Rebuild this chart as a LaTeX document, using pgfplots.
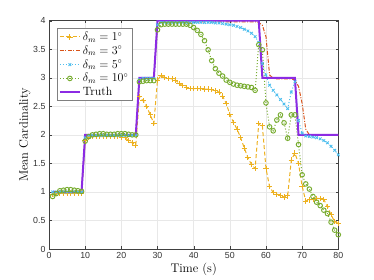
\documentclass[border=0pt]{standalone}
\usepackage{fontspec}
\setsansfont{Liberation Sans}
\usepackage{pgfplots}
\pgfplotsset{compat=1.18}
\definecolor{mOrange}{rgb}{0.929,0.694,0.125}
\definecolor{mRed}{rgb}{0.851,0.325,0.098}
\definecolor{mBlue}{rgb}{0.302,0.745,0.933}
\definecolor{mGreen}{rgb}{0.467,0.675,0.188}
\definecolor{mPurple}{rgb}{0.55,0.17,0.89}
\begin{document}
\begin{tikzpicture}
\path (-49pt,-31pt) rectangle (325pt,249pt);
\begin{axis}[
  at={(0,0)}, anchor=south west,
  scale only axis, width=289.3pt, height=228.3pt,
  xmin=0, xmax=80, ymin=0, ymax=4,
  xtick={0,10,...,80}, ytick={0,0.5,...,4},
  grid=major, grid style={color=gray!18, line width=0.5pt},
  axis line style={color=black!75, line width=0.5pt},
  tick style={color=black!75},
  major tick length=2.5pt,
  tick align=inside,
  /pgf/number format/assume math mode=true,
  ticklabel style={font=\sffamily\fontsize{8.8}{10}\selectfont, color=black!80},
  xlabel={Time (s)}, ylabel={Mean Cardinality},
  label style={font=\fontsize{12.5}{14}\selectfont},
  xlabel style={yshift=3pt},
  ylabel style={yshift=-4pt},
  legend style={at={(0.028,0.967)}, anchor=north west, font=\fontsize{12}{14}\selectfont,
    draw=black!50, line width=0.6pt, fill=white, inner sep=1.5pt, row sep=0pt},
  legend cell align=left,
  legend image code/.code={\draw[#1] (0cm,0cm) -- (0.35cm,0cm) -- (0.7cm,0cm);
    \draw[#1, solid, mark repeat=1] plot coordinates {(0.35cm,0cm)};},
]
\addplot[color=mOrange, line width=1pt, dash pattern=on 4pt off 2.5pt, mark=+, mark size=2.7pt, mark options={solid, line width=0.85pt}] coordinates {
(1,0.96)(2,0.97)(3,0.98)(4,0.97)(5,0.97)(6,0.98)(7,0.97)(8,0.98)(9,0.98)
(10,1.90)(11,1.96)(12,1.97)(13,1.97)(14,1.97)(15,1.97)(16,1.97)(17,1.97)(18,1.97)(19,1.97)(20,1.96)
(21,1.95)(22,1.90)(23,1.86)(24,1.82)
(25,2.67)(26,2.60)(27,2.50)(28,2.35)(29,2.20)
(30,2.96)(31,3.04)(32,3.00)(33,2.99)(34,2.98)(35,2.96)(36,2.90)(37,2.86)(38,2.83)(39,2.81)(40,2.81)
(41,2.81)(42,2.81)(43,2.80)(44,2.80)(45,2.79)(46,2.77)(47,2.75)(48,2.68)(49,2.55)(50,2.36)
(51,2.22)(52,2.10)(53,1.95)(54,1.77)(55,1.60)(56,1.48)(57,1.41)(58,2.20)(59,2.16)(60,1.41)
(61,1.09)(62,0.99)(63,0.96)(64,0.94)(65,0.91)(66,0.93)(67,1.56)(68,1.68)(69,1.50)(70,1.10)
(71,0.84)(72,0.86)(73,0.87)(74,0.89)(75,0.88)(76,0.87)(77,0.74)(78,0.60)(79,0.48)(80,0.45)
};
\addlegendentry{$\delta_m=1^\circ$}
\addplot[color=mRed, line width=1pt, dash pattern=on 4pt off 1.5pt on 1pt off 1.5pt] coordinates {
(1,1.0)(9,1.0)(10,1.95)(11,2.0)(24,2.0)(25,2.97)(26,3.0)(29,3.0)(30,3.95)(31,3.98)(57,3.98)
(58,3.97)(59,3.92)(60,3.72)(61,3.05)(62,2.99)(63,2.98)(67,2.98)(68,2.96)(69,2.85)(70,2.55)
(71,2.10)(72,2.00)(73,1.99)(80,1.99)
};
\addlegendentry{$\delta_m=3^\circ$}
\addplot[color=mBlue, line width=1pt, dotted, mark=x, mark size=1.9pt, mark options={solid, line width=0.85pt}] coordinates {
(1,1.0)(2,1.0)(3,1.0)(4,1.0)(5,1.0)(6,1.0)(7,1.0)(8,1.0)(9,1.0)
(10,1.95)(11,1.99)(12,1.99)(13,1.99)(14,1.99)(15,1.99)(16,1.99)(17,1.99)(18,1.99)(19,1.99)(20,1.99)
(21,1.99)(22,1.99)(23,1.99)(24,1.99)
(25,2.97)(26,2.99)(27,2.99)(28,2.99)(29,2.99)
(30,3.93)(31,3.97)(32,3.97)(33,3.97)(34,3.97)(35,3.97)(36,3.97)(37,3.97)(38,3.97)(39,3.97)(40,3.97)
(41,3.97)(42,3.97)(43,3.97)(44,3.97)(45,3.97)(46,3.96)(47,3.96)(48,3.95)(49,3.94)(50,3.93)
(51,3.92)(52,3.90)(53,3.88)(54,3.85)(55,3.82)(56,3.78)(57,3.72)(58,3.62)(59,3.25)(60,3.05)
(61,2.87)(62,2.78)(63,2.70)(64,2.62)(65,2.54)(66,2.46)(67,2.75)(68,2.93)(69,2.25)(70,2.03)
(71,1.98)(72,1.97)(73,1.96)(74,1.95)(75,1.93)(76,1.90)(77,1.86)(78,1.80)(79,1.73)(80,1.65)
};
\addlegendentry{$\delta_m=5^\circ$}
\addplot[color=mGreen, line width=1pt, dotted, mark=o, mark size=2.3pt, mark options={solid, line width=0.95pt}] coordinates {
(1,0.92)(2,0.97)(3,1.02)(4,1.03)(5,1.04)(6,1.04)(7,1.03)(8,1.02)(9,1.01)
(10,1.89)(11,1.97)(12,2.00)(13,2.01)(14,2.02)(15,2.02)(16,2.01)(17,2.01)(18,2.01)(19,2.02)(20,2.02)
(21,2.02)(22,2.01)(23,2.00)(24,2.00)
(25,2.93)(26,2.94)(27,2.95)(28,2.95)(29,2.95)
(30,3.84)(31,3.93)(32,3.94)(33,3.94)(34,3.94)(35,3.94)(36,3.94)(37,3.94)(38,3.94)(39,3.92)(40,3.88)
(41,3.83)(42,3.76)(43,3.65)(44,3.49)(45,3.30)(46,3.16)(47,3.08)(48,3.03)(49,2.96)(50,2.92)
(51,2.89)(52,2.87)(53,2.86)(54,2.85)(55,2.84)(56,2.83)(57,2.78)(58,3.58)(59,3.49)(60,2.56)
(61,2.14)(62,2.07)(63,2.26)(64,2.35)(65,2.21)(66,1.94)(67,2.35)(68,2.35)(69,1.83)(70,1.30)
(71,1.14)(72,1.05)(73,0.92)(74,0.82)(75,0.76)(76,0.68)(77,0.62)(78,0.47)(79,0.33)(80,0.25)
};
\addlegendentry{$\delta_m=10^\circ$}
\addplot[color=mPurple, line width=2pt] coordinates {
(1,1)(9,1)(10,2)(24,2)(25,3)(29,3)(30,4)(58,4)(59,3)(68,3)(69,2)(80,2)
};
\addlegendentry{Truth}
\end{axis}
\end{tikzpicture}
\end{document}
